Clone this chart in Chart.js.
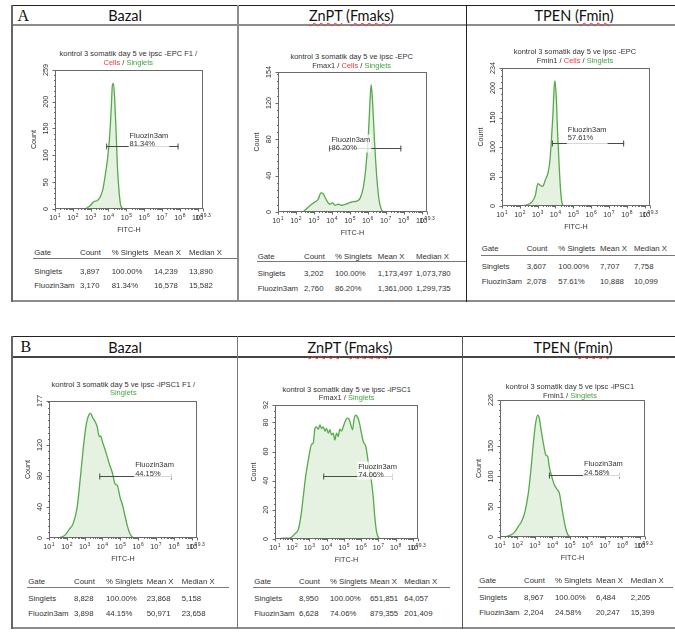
<!DOCTYPE html>
<html>
<head>
<meta charset="utf-8">
<title>Fluozin3am flow cytometry</title>
<script src="https://cdn.jsdelivr.net/npm/chart.js@4.4.1/dist/chart.umd.min.js"></script>
<style>
  html, body { margin: 0; padding: 0; background: #fff; }
  body { width: 675px; height: 633px; position: relative; overflow: hidden; font-family: "Liberation Sans", Arial, sans-serif; color: #333; }
  .t { position: absolute; white-space: nowrap; line-height: 1; }
  .ln { position: absolute; }
  canvas { position: absolute; }
  .wavy { text-decoration: underline wavy #e0393e; text-decoration-thickness: 1px; text-underline-offset: 2px; }
  .red { color: #e8383d; }
  .grn { color: #45a445; }
</style>
</head>
<body>
<script>
// x axis: log10 of FITC-H, ticks 10^1 .. 10^9.3
var xTickValues = [1, 2, 3, 4, 5, 6, 7, 8, 9, 9.3];
var xTickExps = ['1', '2', '3', '4', '5', '6', '7', '8', '9', '9.3'];

// A - EPC
var a1Log = [2.69, 2.97, 3.15, 3.38, 3.53, 3.68, 3.81, 3.94, 4.05, 4.15, 4.22, 4.28, 4.35, 4.43, 4.5, 4.6, 4.69, 4.84];
var a1Count = [0, 6, 13, 16, 22, 36, 61, 92, 129, 185, 231, 234, 203, 141, 79, 30, 6, 0];
var a1YTicks = [0, 50, 100, 150, 200, 259];

var a2Log = [2.4, 2.77, 3.05, 3.24, 3.39, 3.52, 3.7, 3.89, 4.04, 4.17, 4.36, 4.54, 4.82, 5.1, 5.38, 5.57, 5.76, 5.9, 6.04, 6.13, 6.19, 6.28, 6.37, 6.5, 6.63, 6.78, 6.93];
var a2Count = [0, 7, 11, 14, 21, 20, 13, 8.5, 10, 7.4, 8.5, 7.4, 9, 11, 12, 15, 28, 50, 87, 124, 140, 117, 80, 39, 13, 2, 0];
var a2YTicks = [0, 40, 80, 120, 154];

var a3Log = [2.03, 2.4, 2.68, 2.87, 3.01, 3.15, 3.28, 3.43, 3.56, 3.67, 3.76, 3.85, 3.93, 3.97, 4.04, 4.12, 4.21, 4.3, 4.4, 4.49];
var a3Count = [0, 2, 7, 18, 38, 35, 33.5, 44, 54, 72, 106, 152, 203, 212, 186, 123, 66, 21, 2, 0];
var a3YTicks = [0, 50, 100, 150, 200, 234];

// B - iPSC1
var b1Log = [1.6, 1.88, 2.16, 2.35, 2.58, 2.78, 2.95, 3.1, 3.23, 3.33, 3.44, 3.57, 3.7, 3.82, 3.89, 4.0, 4.19, 4.38, 4.57, 4.7, 4.83, 4.98, 5.13, 5.24, 5.39, 5.54, 5.73, 5.92];
var b1Count = [0.5, 3.4, 12, 18.5, 40, 83, 122, 148, 159, 161, 156, 151, 144, 131, 132, 124, 111, 96, 83, 70, 68, 53, 42, 31, 16, 5.6, 0.5, 0];
var b1YTicks = [0, 40, 80, 120, 177];

var b2Log = [1.19, 1.48, 1.77, 1.97, 2.16, 2.35, 2.5, 2.64, 2.78, 2.93, 3.12, 3.22, 3.32, 3.41, 3.51, 3.61, 3.7, 3.8, 3.9, 3.99, 4.09, 4.19, 4.28, 4.38, 4.47, 4.57, 4.67, 4.76, 4.86, 4.96, 5.05, 5.19, 5.3, 5.4, 5.5, 5.59, 5.69, 5.79, 5.88, 5.98, 6.12, 6.27, 6.41, 6.56, 6.7, 6.79, 6.89, 7.02, 7.14];
var b2Count = [0, 0.5, 0.5, 1.4, 3.7, 6.4, 15.5, 29, 43, 54, 65, 66, 76, 77, 75.4, 78.4, 76, 77, 74, 76, 72.7, 75, 71.5, 72.7, 68, 72.7, 70.4, 75.4, 74, 77, 80, 83, 82.3, 78.4, 75, 82.3, 85, 83.7, 80.7, 75, 67, 63.5, 53, 43, 29, 15.5, 5.3, 0.7, 0];
var b2YTicks = [0, 20, 40, 60, 80, 92];

var b3Log = [1.1, 1.38, 1.67, 1.86, 2.05, 2.24, 2.43, 2.62, 2.77, 2.91, 3.04, 3.16, 3.25, 3.35, 3.48, 3.63, 3.73, 3.82, 3.96, 4.11, 4.28, 4.4, 4.53, 4.66, 4.78, 4.91, 5.1];
var b3Count = [0, 1, 4, 9, 17.5, 26, 42, 72, 111, 155, 188, 201, 196, 177, 155, 135, 133, 116, 100, 86, 78, 72, 50, 28.5, 12, 2.7, 0];
var b3YTicks = [0, 50, 100, 150, 226];

// gates [lo, hi] in log units, and the gate percentage
var a1Gate = [3.87, 7.93], a1Pct = '81.34%';
var a2Gate = [3.85, 7.87], a2Pct = '86.20%';
var a3Gate = [3.8, 7.85], a3Pct = '57.61%';
var b1Gate = [3.82, 7.89], b1Pct = '44.15%';
var b2Gate = [3.8, 7.85], b2Pct = '74.06%';
var b3Gate = [3.8, 7.87], b3Pct = '24.58%';

// stats tables
var tableHead = ['Gate', 'Count', '% Singlets', 'Mean X', 'Median X'];
var a1Rows = [['Singlets', '3,897', '100.00%', '14,239', '13,890'], ['Fluozin3am', '3,170', '81.34%', '16,578', '15,582']];
var a2Rows = [['Singlets', '3,202', '100.00%', '1,173,497', '1,073,780'], ['Fluozin3am', '2,760', '86.20%', '1,361,000', '1,299,735']];
var a3Rows = [['Singlets', '3,607', '100.00%', '7,707', '7,758'], ['Fluozin3am', '2,078', '57.61%', '10,888', '10,099']];
var b1Rows = [['Singlets', '8,828', '100.00%', '23,868', '5,158'], ['Fluozin3am', '3,898', '44.15%', '50,971', '23,658']];
var b2Rows = [['Singlets', '8,950', '100.00%', '651,851', '64,057'], ['Fluozin3am', '6,628', '74.06%', '879,355', '201,409']];
var b3Rows = [['Singlets', '8,967', '100.00%', '6,484', '2,205'], ['Fluozin3am', '2,204', '24.58%', '20,247', '15,399']];

// plot titles
var a1Title = ['kontrol 3 somatik day 5 ve ipsc -EPC F1 /', '<span class="red">Cells</span> / <span class="grn">Singlets</span>'];
var a2Title = ['kontrol 3 somatik day 5 ve ipsc -EPC', 'Fmax1 / <span class="red">Cells</span> / <span class="grn">Singlets</span>'];
var a3Title = ['kontrol 3 somatik day 5 ve ipsc -EPC', 'Fmin1 / <span class="red">Cells</span> / <span class="grn">Singlets</span>'];
var b1Title = ['kontrol 3 somatik day 5 ve ipsc -iPSC1 F1 /', '<span class="grn">Singlets</span>'];
var b2Title = ['kontrol 3 somatik day 5 ve ipsc -iPSC1', 'Fmax1 / <span class="grn">Singlets</span>'];
var b3Title = ['kontrol 3 somatik day 5 ve ipsc -iPSC1', 'Fmin1 / <span class="grn">Singlets</span>'];

// layout of each panel (pixels)
var panels = [
  { log: a1Log, count: a1Count, yTicks: a1YTicks, minor: 10, gate: a1Gate, pct: a1Pct, rows: a1Rows, title: a1Title,
    box: [55, 70, 203, 209], gateY: 118, labelAt: 5.18, labelDy: -10.7, titleAt: [128.3, 54, 62.7],
    cols: [34.3, 80, 111.7, 154, 189], headY: 253.3, lineY: 258.7, lineX: [33, 237], rowY: [271.7, 286] },
  { log: a2Log, count: a2Count, yTicks: a2YTicks, minor: 8, gate: a2Gate, pct: a2Pct, rows: a2Rows, title: a2Title,
    box: [278, 72, 427, 212], gateY: 70, labelAt: 3.98, labelDy: -9, titleAt: [351.7, 56.7, 65.7],
    cols: [257.7, 304, 335, 377.7, 416], headY: 256.7, lineY: 261.7, lineX: [256.7, 466], rowY: [274.3, 288.7] },
  { log: a3Log, count: a3Count, yTicks: a3YTicks, minor: 10, gate: a3Gate, pct: a3Pct, rows: a3Rows, title: a3Title,
    box: [502, 68, 650, 206], gateY: 106, labelAt: 4.69, labelDy: -14, titleAt: [575, 52.3, 61],
    cols: [481.7, 526.7, 558.3, 600, 634], headY: 249.3, lineY: 255, lineX: [480.7, 675], rowY: [266.7, 282.3] },
  { log: b1Log, count: b1Count, yTicks: b1YTicks, minor: 8, gate: b1Gate, pct: b1Pct, rows: b1Rows, title: b1Title,
    box: [49, 401, 197, 538], gateY: 80, labelAt: 5.83, labelDy: -11.3, titleAt: [123.3, 385, 393.3],
    cols: [28.3, 74, 106, 146.7, 181.7], headY: 581.7, lineY: 587.7, lineX: [26.7, 229.3], rowY: [599.3, 614] },
  { log: b2Log, count: b2Count, yTicks: b2YTicks, minor: 4, gate: b2Gate, pct: b2Pct, rows: b2Rows, title: b2Title,
    box: [275, 405, 418, 539], gateY: 43, labelAt: 5.83, labelDy: -10, titleAt: [346.7, 390, 397.7],
    cols: [254.3, 299, 330, 370, 404.3], headY: 581.7, lineY: 587.7, lineX: [253.3, 450], rowY: [599.3, 614] },
  { log: b3Log, count: b3Count, yTicks: b3YTicks, minor: 10, gate: b3Gate, pct: b3Pct, rows: b3Rows, title: b3Title,
    box: [500, 400, 645, 537], gateY: 101.5, labelAt: 5.81, labelDy: -11.3, titleAt: [570, 387.3, 395.7],
    cols: [479.3, 524, 555, 596, 630.7], headY: 580.7, lineY: 587.3, lineX: [478.3, 673.3], rowY: [598.3, 613.3] }
];

var PAD = { left: 30, top: 6, right: 14, bottom: 30 };

function put(x, y, html, css, center) {
  var d = document.createElement('div');
  d.className = 't';
  d.innerHTML = html;
  d.style.cssText = css || '';
  d.style.left = x + 'px';
  d.style.top = y + 'px';
  d.style.transform = center ? 'translate(-50%,-50%)' : 'translate(0,-50%)';
  document.body.appendChild(d);
}

function rule(x, y, w, h, color) {
  var d = document.createElement('div');
  d.className = 'ln';
  d.style.left = x + 'px'; d.style.top = y + 'px';
  d.style.width = w + 'px'; d.style.height = h + 'px';
  d.style.background = color;
  document.body.appendChild(d);
}

// Word table frame
rule(11, 5, 680, 1, '#222');
rule(11, 24, 680, 2, '#8c8c8c');
rule(11, 300, 680, 2, '#8c8c8c');
rule(11, 5, 1.5, 297, '#666');
rule(237, 5, 2, 297, '#8c8c8c');
rule(465.5, 5, 1, 297, '#222');

rule(11, 336, 680, 1, '#222');
rule(11, 356, 680, 1.5, '#444');
rule(11, 627, 680, 2, '#8c8c8c');
rule(11, 336, 1.5, 293, '#666');
rule(236.5, 336, 1.5, 293, '#777');
rule(461.5, 336, 1.5, 293, '#555');

var headCss = 'font-family:Lato,"Open Sans",sans-serif;font-size:14.5px;color:#111;';
put(17.5, 15.5, 'A', 'font-family:"Liberation Serif",serif;font-size:16px;color:#111;');
put(125, 15.5, 'Bazal', headCss, true);
put(351.5, 15.5, '<span class="wavy">ZnPT</span> (<span class="wavy">Fmaks</span>)', headCss, true);
put(574, 15.5, 'TPEN (<span class="wavy">Fmin</span>)', headCss, true);
put(20.5, 347, 'B', 'font-family:"Liberation Serif",serif;font-size:16px;color:#111;');
put(125, 348, 'Bazal', headCss, true);
put(350, 348, '<span class="wavy">ZnPT</span> (<span class="wavy">Fmaks</span>)', headCss, true);
put(573, 348, 'TPEN (<span class="wavy">Fmin</span>)', headCss, true);

// axes, ticks and gate drawn from the chart's own scales
var flowAxes = {
  id: 'flowAxes',
  afterDatasetsDraw: function (chart, args, o) {
    var ctx = chart.ctx, xs = chart.scales.x, ys = chart.scales.y;
    var x0 = xs.getPixelForValue(o.gate[0]), x1 = xs.getPixelForValue(o.gate[1]);
    var gy = Math.round(ys.getPixelForValue(o.gateY)) + 0.5;
    ctx.save();
    ctx.strokeStyle = '#4a4a4a';
    ctx.lineWidth = 1;
    ctx.beginPath();
    ctx.moveTo(x0, gy); ctx.lineTo(x1, gy);
    ctx.moveTo(x0 + 0.5, gy - 3); ctx.lineTo(x0 + 0.5, gy + 3);
    ctx.moveTo(x1 - 0.5, gy - 3); ctx.lineTo(x1 - 0.5, gy + 3);
    ctx.stroke();
    ctx.font = '7.5px "Liberation Sans"';
    var lx = xs.getPixelForValue(o.labelAt), ly = gy + o.labelDy;
    var w = Math.max(ctx.measureText('Fluozin3am').width, ctx.measureText(o.pct).width);
    ctx.fillStyle = 'rgba(255,255,255,0.78)';
    var top = ly - 5, bot = Math.max(ly + 13, gy + 2);
    ctx.fillRect(lx - 1, top, w + 2, bot - top);
    ctx.fillStyle = '#333';
    ctx.textAlign = 'left';
    ctx.textBaseline = 'middle';
    ctx.fillText('Fluozin3am', lx, ly);
    ctx.fillText(o.pct, lx, ly + 8.5);
    ctx.restore();
  },
  afterDraw: function (chart, args, o) {
    var ctx = chart.ctx, xs = chart.scales.x, ys = chart.scales.y, a = chart.chartArea;
    var L = Math.round(a.left) + 0.5, R = Math.round(a.right) - 0.5, T = Math.round(a.top) + 0.5, B = Math.round(a.bottom) - 0.5;
    ctx.save();
    ctx.strokeStyle = '#6a6a6a';
    ctx.lineWidth = 1;
    ctx.strokeRect(L, T, R - L, B - T);
    ctx.beginPath();
    // x ticks
    xTickValues.forEach(function (v) {
      var px = Math.round(xs.getPixelForValue(v)) + 0.5;
      ctx.moveTo(px, B); ctx.lineTo(px, B + 3);
    });
    for (var d = 1; d < 10; d++) {
      for (var k = 2; k < 10; k++) {
        var lv = d + Math.log10(k);
        if (lv >= 9.3) break;
        var mx = Math.round(xs.getPixelForValue(lv)) + 0.5;
        ctx.moveTo(mx, B); ctx.lineTo(mx, B + 1.5);
      }
    }
    // y ticks
    var ymax = o.yTicks[o.yTicks.length - 1];
    for (var v = 0; v <= ymax; v += o.minor) {
      var my = Math.round(ys.getPixelForValue(v)) + 0.5;
      ctx.moveTo(L, my); ctx.lineTo(L - 1.5, my);
    }
    o.yTicks.forEach(function (v) {
      var py = Math.round(ys.getPixelForValue(v)) + 0.5;
      ctx.moveTo(L, py); ctx.lineTo(L - 3, py);
    });
    ctx.stroke();

    ctx.fillStyle = '#333';
    ctx.textBaseline = 'middle';
    // x tick labels 10^n
    xTickValues.forEach(function (v, i) {
      var px = xs.getPixelForValue(v);
      ctx.font = '7.2px "Liberation Sans"';
      var wb = ctx.measureText('10').width;
      ctx.font = '5px "Liberation Sans"';
      var we = ctx.measureText(xTickExps[i]).width;
      var sx = px - (wb + we + 0.5) / 2;
      ctx.textAlign = 'left';
      ctx.font = '7.2px "Liberation Sans"';
      ctx.fillText('10', sx, B + 10);
      ctx.font = '5px "Liberation Sans"';
      ctx.fillText(xTickExps[i], sx + wb + 0.5, B + 7.5);
    });
    ctx.font = '7.2px "Liberation Sans"';
    ctx.textAlign = 'center';
    ctx.fillText('FITC-H', (a.left + a.right) / 2, B + 22);
    // y tick labels, rotated
    o.yTicks.forEach(function (v) {
      var py = ys.getPixelForValue(v);
      ctx.save();
      ctx.translate(L - 9.5, py);
      ctx.rotate(-Math.PI / 2);
      ctx.fillText(String(v), 0, 0);
      ctx.restore();
    });
    ctx.save();
    ctx.translate(L - 21, (a.top + a.bottom) / 2);
    ctx.rotate(-Math.PI / 2);
    ctx.fillText('Count', 0, 0);
    ctx.restore();
    ctx.restore();
  }
};

panels.forEach(function (p) {
  var bx = p.box;
  var cv = document.createElement('canvas');
  cv.width = bx[2] - bx[0] + PAD.left + PAD.right;
  cv.height = bx[3] - bx[1] + PAD.top + PAD.bottom;
  cv.style.left = (bx[0] - PAD.left) + 'px';
  cv.style.top = (bx[1] - PAD.top) + 'px';
  document.body.appendChild(cv);

  new Chart(cv, {
    type: 'line',
    data: {
      datasets: [{
        data: p.log.map(function (x, i) { return { x: x, y: p.count[i] }; }),
        borderColor: '#55aa4a',
        backgroundColor: 'rgba(110,185,95,0.18)',
        borderWidth: 1.3,
        fill: 'origin',
        pointRadius: 0,
        cubicInterpolationMode: 'monotone'
      }]
    },
    options: {
      responsive: false,
      animation: false,
      devicePixelRatio: 1,
      layout: { padding: PAD },
      plugins: {
        legend: { display: false },
        tooltip: { enabled: false },
        flowAxes: { yTicks: p.yTicks, minor: p.minor, gate: p.gate, gateY: p.gateY, pct: p.pct, labelAt: p.labelAt, labelDy: p.labelDy }
      },
      scales: {
        x: { type: 'linear', min: 1, max: 9.3, display: false },
        y: { type: 'linear', min: 0, max: p.yTicks[p.yTicks.length - 1], display: false }
      }
    },
    plugins: [flowAxes]
  });

  // title
  var tcss = 'font-size:7.5px;color:#333;';
  put(p.titleAt[0], p.titleAt[1], p.title[0], tcss, true);
  put(p.titleAt[0], p.titleAt[2], p.title[1], tcss, true);

  // stats table
  var cs = 'font-size:7.8px;color:#333;';
  tableHead.forEach(function (h, i) { put(p.cols[i], p.headY, h, cs); });
  rule(p.lineX[0], p.lineY - 0.5, p.lineX[1] - p.lineX[0], 1, '#777');
  p.rows.forEach(function (r, j) {
    r.forEach(function (c, i) { put(p.cols[i], p.rowY[j], c, cs); });
  });
});
</script>
</body>
</html>
